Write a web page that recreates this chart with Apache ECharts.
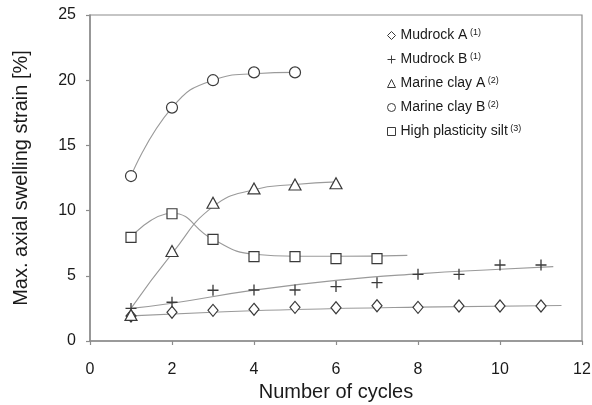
<!DOCTYPE html>
<html>
<head>
<meta charset="utf-8">
<script src="https://cdn.jsdelivr.net/npm/echarts@6/dist/echarts.min.js"></script>
<style>
html,body{margin:0;padding:0;background:#fff;}
#c{width:592px;height:405px;}
</style>
</head>
<body>
<div id="c"></div>
<script>
// ---- data ----
var xTicks = [0, 2, 4, 6, 8, 10, 12];
var yTicks = [0, 5, 10, 15, 20, 25];

var mudrockAx = [1, 2, 3, 4, 5, 6, 7, 8, 9, 10, 11];
var mudrockAy = [1.92, 2.2, 2.35, 2.43, 2.58, 2.55, 2.7, 2.58, 2.68, 2.68, 2.68];
var mudrockBx = [1, 2, 3, 4, 5, 6, 7, 8, 9, 10, 11];
var mudrockBy = [2.5, 2.97, 3.89, 3.91, 3.91, 4.17, 4.47, 5.11, 5.11, 5.83, 5.83];
var marineAx = [1, 2, 3, 4, 5, 6];
var marineAy = [2.0, 6.9, 10.6, 11.7, 12.0, 12.1];
var marineBx = [1, 2, 3, 4, 5];
var marineBy = [12.65, 17.9, 20.0, 20.6, 20.6];
var siltX = [1, 2, 3, 4, 5, 6, 7];
var siltY = [7.95, 9.76, 7.8, 6.47, 6.47, 6.31, 6.31];

// trend curves
var trendAx = [1, 3, 5, 8, 11.5];
var trendAy = [1.93, 2.2, 2.42, 2.6, 2.72];
var trendBx = [1, 2, 4, 6, 8, 10, 11.3];
var trendBy = [2.5, 2.9, 3.9, 4.65, 5.15, 5.5, 5.7];
var trendMAx = [1, 2, 3, 4, 5, 6];
var trendMAy = [2.5, 6.7, 10.3, 11.6, 12.0, 12.2];
var trendMBx = [1, 2, 3, 4, 5];
var trendMBy = [12.65, 17.9, 20.0, 20.5, 20.6];
var trendSx = [1, 2, 3, 4, 5, 6, 7.74];
var trendSy = [7.95, 9.8, 7.8, 6.65, 6.5, 6.5, 6.57];

var names = ['Mudrock A', 'Mudrock B', 'Marine clay A', 'Marine clay B', 'High plasticity silt'];
var refs = ['(1)', '(1)', '(2)', '(2)', '(3)'];

function pairs(xs, ys) { return xs.map(function (x, i) { return [x, ys[i]]; }); }

var FONT = '"Liberation Sans", Arial, Helvetica, sans-serif';
var MK = '#3a3a3a';
var LN = '#9a9a9a';
var TX = '#1a1a1a';
var PLUS = 'path://M4.4,0H5.6V4.4H10V5.6H5.6V10H4.4V5.6H0V4.4H4.4Z';

function markerSeries(name, xs, ys, symbol, size, filled) {
  return {
    name: name, type: 'scatter', data: pairs(xs, ys), symbol: symbol, symbolSize: size, z: 5,
    itemStyle: filled ? { color: MK, borderWidth: 0, opacity: 1 } :
      { color: '#fff', borderColor: MK, borderWidth: 1.2, opacity: 1 },
    emphasis: { disabled: true }
  };
}
function trendSeries(xs, ys) {
  return {
    type: 'line', data: pairs(xs, ys), smooth: 0.5, showSymbol: false, symbol: 'none', z: 2,
    lineStyle: { color: LN, width: 1.1 }, silent: true, emphasis: { disabled: true }
  };
}

var chart = echarts.init(document.getElementById('c'), null, { renderer: 'canvas' });
chart.setOption({
  animation: false,
  backgroundColor: '#fff',
  textStyle: { fontFamily: FONT },
  grid: { left: 90, top: 15, right: 10, bottom: 64, outerBoundsMode: 'none', containLabel: false,
    show: true, borderColor: '#8c8c8c', borderWidth: 1.2, backgroundColor: 'transparent' },
  xAxis: {
    type: 'value', min: xTicks[0], max: xTicks[xTicks.length - 1], interval: 2,
    name: 'Number of cycles', nameLocation: 'middle', nameGap: 39,
    nameTextStyle: { fontSize: 20, color: TX, fontFamily: FONT },
    axisLine: { show: true, onZero: false, lineStyle: { color: '#8c8c8c', width: 1.5 } },
    axisTick: { show: true, inside: false, length: 4, lineStyle: { color: '#8c8c8c', width: 1.2 } },
    axisLabel: { fontSize: 16, color: TX, margin: 21, fontFamily: FONT },
    splitLine: { show: false }
  },
  yAxis: {
    type: 'value', min: yTicks[0], max: yTicks[yTicks.length - 1], interval: 5,
    name: 'Max. axial swelling strain [%]', nameLocation: 'middle', nameGap: 59,
    nameTextStyle: { fontSize: 20, color: TX, fontFamily: FONT },
    axisLine: { show: true, lineStyle: { color: '#8c8c8c', width: 1.5 } },
    axisTick: { show: true, inside: false, length: 4, lineStyle: { color: '#8c8c8c', width: 1.2 } },
    axisLabel: { fontSize: 16, color: TX, margin: 14, fontFamily: FONT },
    splitLine: { show: false }
  },
  legend: {
    data: names, orient: 'vertical', left: 382, top: 23,
    itemWidth: 8, itemHeight: 8, itemGap: 9.5,
    selectedMode: false,
    itemStyle: { borderWidth: 1 },
    formatter: function (n) { return '{a|' + n + '}{s| ' + refs[names.indexOf(n)] + '}'; },
    textStyle: {
      fontFamily: FONT, color: TX, fontSize: 14,
      rich: {
        a: { fontSize: 14, color: TX, fontFamily: FONT, lineHeight: 15, verticalAlign: 'middle' },
        s: { fontSize: 9, color: TX, fontFamily: FONT, lineHeight: 15, verticalAlign: 'top' }
      }
    }
  },
  series: [
    trendSeries(trendAx, trendAy),
    trendSeries(trendBx, trendBy),
    trendSeries(trendMAx, trendMAy),
    trendSeries(trendMBx, trendMBy),
    trendSeries(trendSx, trendSy),
    markerSeries(names[0], mudrockAx, mudrockAy, 'diamond', [10, 12], false),
    markerSeries(names[1], mudrockBx, mudrockBy, PLUS, 11, true),
    markerSeries(names[2], marineAx, marineAy, 'triangle', [12, 11], false),
    markerSeries(names[3], marineBx, marineBy, 'circle', 11, false),
    markerSeries(names[4], siltX, siltY, 'rect', 10, false)
  ]
});
</script>
</body>
</html>
